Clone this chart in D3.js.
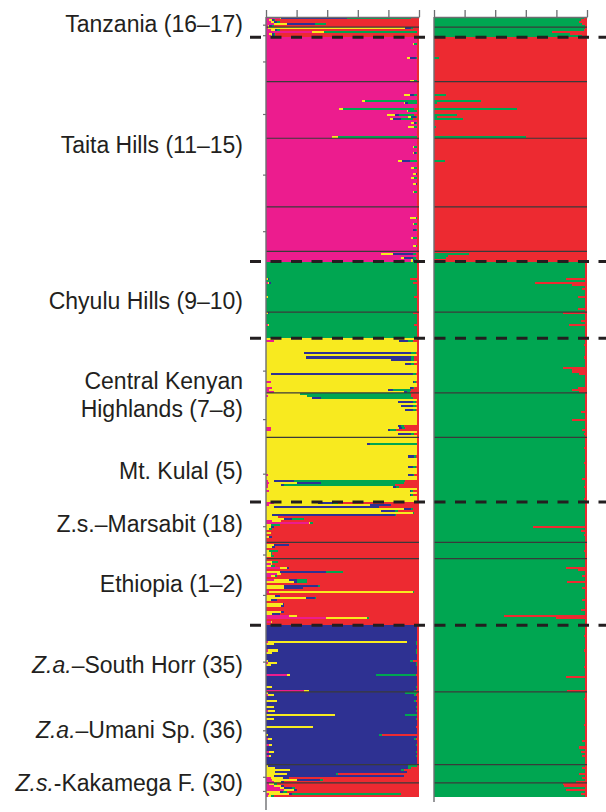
<!DOCTYPE html>
<html>
<head>
<meta charset="utf-8">
<script src="https://cdnjs.cloudflare.com/ajax/libs/d3/7.8.5/d3.min.js"></script>
<style>
  body { margin: 0; background: #fff; }
  svg { display: block; }
  text { font-family: "Liberation Sans", Arial, sans-serif; fill: #231f20; }
</style>
</head>
<body>
<div id="chart"></div>
<script>
const width = 606;
const height = 812;

// cluster colours, in stacking order
const leftColors = ['#ec1c8e', '#f8ea1f', '#2e3192', '#00a651', '#ed2a31'];   // pink, yellow, blue, green, red
const rightColors = ['#00a651', '#ed2a31'];                                    // green, red

// individuals per sampling block (top to bottom), blocks are split by thin lines
const groupSizes = [5, 5, 22, 28, 34, 22, 5, 25, 13, 27, 22, 32, 20, 8, 33, 33, 36, 9, 7];
const leftDominant = [4, 4, 0, 0, 0, 0, 0, 3, 3, 1, 1, 1, 4, 4, 4, 2, 2, 2, 4];
const rightDominant = [0, 0, 1, 1, 1, 1, 1, 0, 0, 0, 0, 0, 0, 0, 0, 0, 0, 0, 0];
// blocks followed by a dashed region break
const dashedAfter = [1, 6, 8, 11, 14];

const xTicks = [0, 0.2, 0.4, 0.6, 0.8, 1];
const siteTickRows = [3.8, 9, 22, 48, 78, 106, 175, 199, 226, 252, 266, 286, 319, 353, 376, 383];

const labels = ['Tanzania (16–17)', 'Taita Hills (11–15)', 'Chyulu Hills (9–10)', 'Central Kenyan',
  'Highlands (7–8)', 'Mt. Kulal (5)', 'Z.s.–Marsabit (18)', 'Ethiopia (1–2)',
  '*Z.a.*–South Horr (35)', '*Z.a.*–Umani Sp. (36)', '*Z.s.*-Kakamega F. (30)'];
const labelRows = [3.5, 63.3, 140.5, 180.1, 194, 224.7, 250.9, 280.6, 320.4, 352.6, 379.1];

// admixed individuals, left plot: [block, row, pink, yellow, blue, green, red]
const leftAdmixed = [
  [0, 0, .09, .01, .43, .42, .05], [0, 1, .02, .02, .01, .01, .94], [0, 2, .03, .02, .02, .02, .91],
  [0, 3, .05, .09, .18, .07, .61], [0, 4, .01, .01, .02, .01, .95],
  [1, 0, .01, .90, .04, .01, .04], [1, 1, .03, .03, .01, .02, .91], [1, 2, .30, .08, 0, .61, .01],
  [1, 3, .02, .02, .01, .01, .94], [1, 4, .03, .01, .01, .01, .94],
  [2, 10, .92, .02, .04, .01, .01], [2, 21, .94, .03, 0, .02, .01], [2, 3, .96, .01, 0, .02, .01],
  [3, 6, .90, .04, .03, .02, .01], [3, 9, .63, .02, 0, .34, .01], [3, 10, .90, .01, .02, .06, .01],
  [3, 13, .48, .02, 0, .47, .03], [3, 14, .92, .01, 0, .06, .01], [3, 16, .79, .05, .03, .10, .03],
  [3, 17, .93, .02, .03, .01, .01], [3, 18, .81, .02, .05, .08, .04], [3, 20, .95, .02, .01, .01, .01],
  [3, 22, .93, .04, 0, .02, .01], [3, 27, .43, .04, 0, .52, .01],
  [4, 4, .96, .01, 0, .02, .01], [4, 7, .96, .01, .01, .01, .01], [4, 11, .86, .03, .05, .05, .01],
  [4, 14, .95, .02, 0, .02, .01], [4, 17, .96, .02, .01, 0, .01], [4, 19, .95, .02, 0, .02, .01],
  [4, 22, .96, .02, .01, 0, .01], [4, 26, .96, .01, 0, .02, .01],
  [5, 5, .94, .04, 0, .01, .01], [5, 8, .96, .01, 0, .02, .01], [5, 11, .96, 0, .02, .01, .01],
  [5, 15, .95, .01, 0, .03, .01], [5, 19, .96, .02, 0, .01, .01],
  [6, 1, .75, .08, .13, .02, .02], [6, 3, .88, .02, .06, .02, .02], [6, 4, .95, .01, .01, .02, .01],
  [7, 8, 0, .01, .01, .92, .06], [7, 10, .01, .01, .01, .93, .04], [7, 17, 0, .01, 0, .96, .03],
  [8, 0, 0, .01, .01, .94, .04], [8, 6, .01, .01, 0, .95, .03],
  [9, 1, .05, .82, .06, .03, .04], [9, 7, 0, .25, .70, .03, .02], [9, 9, 0, .26, .69, .02, .03],
  [9, 10, 0, .82, .13, .02, .03], [9, 12, 0, .91, .04, .02, .03], [9, 17, 0, .03, .93, .02, .02],
  [9, 21, .03, .93, .01, .01, .02], [9, 24, .04, .90, .02, .01, .03], [9, 25, .02, .78, .03, .12, .05],
  [9, 26, .05, .85, .02, .02, .06],
  [10, 0, 0, .22, 0, .73, .05], [10, 1, .01, .26, 0, .68, .05], [10, 2, 0, .30, .06, .60, .04],
  [10, 4, 0, .86, .10, .02, .02], [10, 6, 0, .88, .08, .02, .02], [10, 8, 0, .91, .05, .02, .02],
  [10, 16, 0, .86, .02, .02, .10], [10, 17, .03, .84, .02, .02, .09], [10, 18, .03, .77, .01, .04, .15],
  [10, 20, 0, .86, .09, .02, .03],
  [11, 3, 0, .66, .02, .31, .01], [11, 9, 0, .93, .04, .01, .02], [11, 14, 0, .93, .03, .02, .02],
  [11, 18, .01, .92, .03, .01, .03], [11, 21, .01, .04, .13, .73, .09], [11, 22, .02, .18, .16, .54, .10],
  [11, 23, .01, .09, .02, .72, .16], [11, 24, .01, .82, .02, .02, .13], [11, 26, .02, .92, .01, .01, .04],
  [11, 28, 0, .94, .01, .01, .04],
  [12, 0, .05, .29, .10, .03, .53], [12, 1, .02, .66, .14, 0, .18], [12, 2, 0, .05, .69, 0, .26],
  [12, 3, 0, .90, .05, .01, .04], [12, 4, 0, .75, .09, .02, .14], [12, 5, 0, .96, 0, .01, .03],
  [12, 6, 0, .04, .80, .01, .15], [12, 7, 0, .08, 0, 0, .92], [12, 8, 0, .12, .05, .08, .75],
  [12, 9, .04, .06, 0, 0, .90], [12, 10, .28, .01, 0, .02, .69], [12, 11, 0, .03, 0, .06, .91],
  [12, 12, 0, .03, .02, 0, .95], [12, 13, 0, .02, 0, .02, .96], [12, 15, 0, .03, 0, 0, .97],
  [12, 17, 0, .02, .02, 0, .96],
  [13, 1, 0, .05, .10, 0, .85], [13, 2, 0, .04, .02, 0, .94], [13, 4, 0, .02, 0, .06, .92],
  [13, 5, 0, .03, 0, .01, .96], [13, 6, 0, .03, 0, .02, .95],
  [14, 1, 0, .04, 0, .04, .92], [14, 2, .03, .01, 0, 0, .96], [14, 3, 0, .03, 0, .03, .94],
  [14, 4, .09, .05, .01, 0, .85], [14, 6, 0, .09, .30, .11, .50], [14, 7, .07, .03, 0, 0, .90],
  [14, 8, .03, .03, 0, .01, .93], [14, 10, .05, .10, .05, .07, .73], [14, 11, 0, .18, .02, .07, .73],
  [14, 13, 0, .12, .22, .01, .65], [14, 14, 0, .12, .12, 0, .76], [14, 16, .02, .94, 0, .01, .03],
  [14, 18, 0, .06, .03, 0, .91], [14, 19, 0, .26, .06, .01, .67], [14, 20, 0, .03, .04, 0, .93],
  [14, 22, 0, .11, .01, 0, .88], [14, 23, 0, .10, .02, 0, .88], [14, 26, 0, .10, .02, 0, .88],
  [14, 27, 0, .04, .05, 0, .91], [14, 28, .15, .05, 0, 0, .80], [14, 29, .39, .27, 0, .01, .33],
  [14, 31, .03, .01, 0, 0, .96],
  [15, 8, .01, .91, .06, .01, .01], [15, 9, 0, .05, .93, .01, .01], [15, 12, .01, .07, .90, .01, .01],
  [15, 13, 0, .04, .94, .01, .01], [15, 17, 0, .01, .93, .02, .04], [15, 18, .01, .06, .91, .01, .01],
  [15, 19, 0, .03, .95, .01, .01], [15, 24, .14, .02, .56, .26, .02], [15, 30, 0, .04, .94, .01, .01],
  [15, 32, .25, .03, .69, .01, .02],
  [16, 0, 0, .01, .90, .08, .01], [16, 1, .01, .04, .92, .01, .02], [16, 4, 0, .07, .90, .01, .02],
  [16, 7, 0, .05, .93, .01, .01], [16, 9, .01, .05, .92, .01, .01], [16, 11, 0, .45, .46, .08, .01],
  [16, 13, 0, .05, .93, .01, .01], [16, 17, 0, .31, .67, 0, .02], [16, 21, 0, .01, .73, .02, .24],
  [16, 23, .01, .03, .93, .01, .02], [16, 26, .02, .02, .94, .01, .01], [16, 29, .02, .03, .93, .01, .01],
  [16, 31, .02, .01, .95, .01, .01],
  [17, 0, 0, .01, .92, .06, .01], [17, 1, 0, .06, .87, .02, .05], [17, 2, 0, .16, .72, .02, .10],
  [17, 3, 0, .06, .86, 0, .08], [17, 4, 0, .14, .32, .01, .53], [17, 5, 0, .05, .85, 0, .10],
  [17, 6, .03, .08, .04, 0, .85], [17, 7, .04, .16, .15, .02, .63], [17, 8, .05, .05, .02, 0, .88],
  [18, 0, .02, .03, 0, .02, .93], [18, 1, .05, .05, .02, 0, .88], [18, 2, .09, .03, .05, .02, .81],
  [18, 3, .12, .06, .02, 0, .80], [18, 4, 0, .09, .02, .03, .86], [18, 5, .02, .13, .02, .71, .12],
  [18, 6, .01, .02, 0, .02, .95]
];

// admixed individuals, right plot: [block, row, green share]
const rightAdmixed = [
  [0, 0, .98], [0, 1, .96], [0, 2, .95], [0, 3, .97], [0, 4, .99],
  [1, 0, .99], [1, 1, .98], [1, 2, .77], [1, 3, .89], [1, 4, .97],
  [2, 10, .03],
  [3, 6, .08], [3, 9, .31], [3, 10, .02], [3, 13, .54], [3, 16, .15], [3, 17, .02], [3, 18, .19],
  [3, 22, .01], [3, 27, .60],
  [4, 11, .07],
  [6, 1, .23], [6, 2, .09], [6, 3, .08],
  [7, 8, .86], [7, 10, .66], [7, 11, .90], [7, 13, .97], [7, 17, .94], [7, 23, .94],
  [8, 0, .84], [8, 4, .96], [8, 6, .88],
  [9, 0, .97], [9, 3, .98], [9, 9, .98], [9, 14, .84], [9, 15, .90], [9, 16, .90], [9, 17, .95],
  [9, 24, .94], [9, 25, .90], [9, 26, .95],
  [10, 9, .96], [10, 13, .90], [10, 18, .97], [10, 20, .98],
  [11, 5, .98], [11, 12, .98], [11, 20, .97], [11, 24, .98], [11, 30, .98],
  [12, 12, .65], [12, 14, .96], [12, 16, .98],
  [13, 4, .98],
  [14, 4, .86], [14, 5, .94], [14, 8, .97], [14, 11, .87], [14, 14, .97], [14, 20, .97], [14, 25, .96],
  [14, 28, .46], [14, 29, .80],
  [15, 5, .98], [15, 12, .98], [15, 20, .98], [15, 25, .86], [15, 32, .87],
  [16, 3, .98], [16, 16, .98], [16, 24, .97], [16, 27, .95], [16, 29, .96], [16, 31, .97],
  [17, 1, .97], [17, 4, .95], [17, 6, .97], [17, 8, .93],
  [18, 0, .84], [18, 1, .85], [18, 3, .86], [18, 5, .96]
];

const plotTop = 17, plotBottom = 797;
const nRows = d3.sum(groupSizes);
const groupStart = d3.cumsum([0, ...groupSizes]);

const y = d3.scaleLinear().domain([0, nRows]).range([plotTop, plotBottom]);
const xLeft = d3.scaleLinear().domain([0, 1]).range([266, 419]);
const xRight = d3.scaleLinear().domain([0, 1]).range([434, 587]);

const svg = d3.select('#chart').append('svg')
  .attr('width', width)
  .attr('height', height);

function buildRows(dominant, admixed, pure) {
  const lookup = new Map(admixed.map(a => [a[0] + ':' + a[1], a.slice(2)]));
  const rows = [];
  groupSizes.forEach((n, g) => {
    for (let i = 0; i < n; i++) {
      let q = lookup.get(g + ':' + i);
      if (q && q.length === 1) q = [q[0], 1 - q[0]];
      if (!q) q = pure(dominant[g]);
      const s = d3.sum(q);
      rows.push({ index: groupStart[g] + i, q: q.map(v => v / s) });
    }
  });
  return rows;
}

const leftRows = buildRows(leftDominant, leftAdmixed, k => {
  const q = [0, 0, 0, 0, 0];
  if (k === 4) q[4] = 1; else { q[k] = 0.985; q[4] = 0.015; }
  return q;
});
const rightRows = buildRows(rightDominant, rightAdmixed, k => (k === 1 ? [0, 1] : [0.99, 0.01]));

function drawPanel(rows, x, colors) {
  const series = d3.stack()
    .keys(d3.range(colors.length))
    .value((d, key) => d.q[key])(rows);

  const g = svg.append('g');
  g.selectAll('g.layer')
    .data(series)
    .join('g')
    .attr('class', 'layer')
    .attr('fill', (d, i) => colors[i])
    .attr('shape-rendering', 'crispEdges')
    .selectAll('rect')
    .data(d => d.filter(p => p[1] - p[0] > 0))
    .join('rect')
    .attr('x', d => x(d[0]))
    .attr('width', d => x(d[1]) - x(d[0]))
    .attr('y', d => y(d.data.index))
    .attr('height', d => y(d.data.index + 1) - y(d.data.index));

  // thin lines between sampling blocks
  const thin = d3.range(1, groupSizes.length).filter(b => !dashedAfter.includes(b - 1));
  g.selectAll('line.sep')
    .data(thin)
    .join('line')
    .attr('class', 'sep')
    .attr('x1', x(0)).attr('x2', x(1))
    .attr('y1', b => y(groupStart[b])).attr('y2', b => y(groupStart[b]))
    .attr('stroke', '#3a3a3a')
    .attr('stroke-width', 1.2);

  // top axis
  svg.append('g')
    .attr('transform', `translate(0,${plotTop})`)
    .call(d3.axisTop(x).tickValues(xTicks).tickSize(7).tickSizeOuter(0).tickFormat(''))
    .call(a => a.selectAll('line, path').attr('stroke', '#6d6e71').attr('stroke-width', 1.3));
}

drawPanel(leftRows, xLeft, leftColors);
drawPanel(rightRows, xRight, rightColors);

// left axis with site ticks
svg.append('g')
  .attr('transform', `translate(${xLeft(0)},0)`)
  .call(d3.axisLeft(y).tickValues(siteTickRows).tickSize(3).tickSizeOuter(0).tickFormat(''))
  .call(a => a.select('.domain').remove())
  .call(a => a.selectAll('line').attr('stroke', '#6d6e71').attr('stroke-width', 1.2));

svg.append('line')
  .attr('x1', xLeft(0)).attr('x2', xLeft(0))
  .attr('y1', plotTop).attr('y2', 810)
  .attr('stroke', '#6d6e71').attr('stroke-width', 1.4);
svg.append('line')
  .attr('x1', xRight(0)).attr('x2', xRight(0))
  .attr('y1', plotTop).attr('y2', 802)
  .attr('stroke', '#6d6e71').attr('stroke-width', 1.4);

// dashed region breaks
svg.selectAll('line.dash')
  .data(dashedAfter)
  .join('line')
  .attr('class', 'dash')
  .attr('x1', 250).attr('x2', 606)
  .attr('y1', g => y(groupStart[g + 1])).attr('y2', g => y(groupStart[g + 1]))
  .attr('stroke', '#231f20')
  .attr('stroke-width', 3)
  .attr('stroke-dasharray', '11,9.5');

// population labels
const lab = svg.selectAll('text.lab')
  .data(labels)
  .join('text')
  .attr('class', 'lab')
  .attr('x', 243)
  .attr('y', (d, i) => y(labelRows[i]))
  .attr('dy', '0.36em')
  .attr('text-anchor', 'end')
  .attr('font-size', 23);

lab.each(function (d) {
  const t = d3.select(this);
  d.split('*').forEach((part, i) => {
    if (!part) return;
    t.append('tspan').attr('font-style', i % 2 ? 'italic' : 'normal').text(part);
  });
});
</script>
</body>
</html>
